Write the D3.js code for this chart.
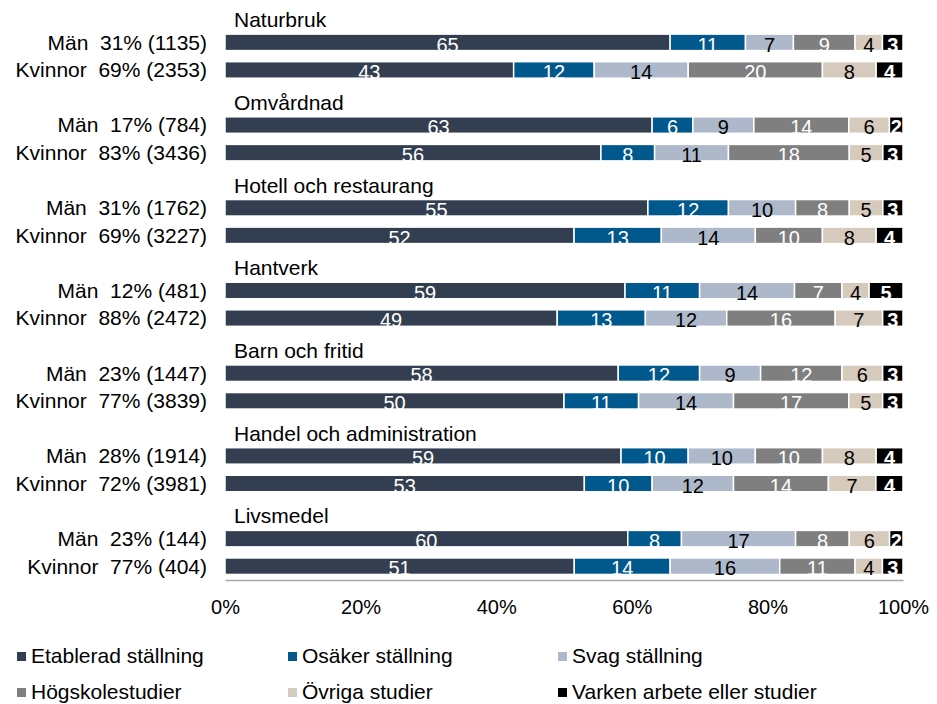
<!DOCTYPE html>
<html>
<head>
<meta charset="utf-8">
<script src="https://cdn.jsdelivr.net/npm/d3@7"></script>
<style>
  body { margin: 0; background: #fff; }
  text { font-family: "Liberation Sans", Arial, sans-serif; }
</style>
</head>
<body>
<script>
var width = 937;
var height = 704;

// groups (utbildningsprogram) and the two rows in each
var groups = ["Naturbruk", "Omvårdnad", "Hotell och restaurang", "Hantverk",
              "Barn och fritid", "Handel och administration", "Livsmedel"];
var menShare = [31, 17, 31, 12, 23, 28, 23];
var menN = [1135, 784, 1762, 481, 1447, 1914, 144];
var womenShare = [69, 83, 69, 88, 77, 72, 77];
var womenN = [2353, 3436, 3227, 2472, 3839, 3981, 404];

// series, one value per row: Män, Kvinnor for each group in order
var seriesNames = ["Etablerad ställning", "Osäker ställning", "Svag ställning",
                   "Högskolestudier", "Övriga studier", "Varken arbete eller studier"];
var etablerad = [65, 43, 63, 56, 63, 52, 59, 49, 58, 50, 59, 53, 60, 51];
var osaker    = [11, 12, 6, 8, 12, 13, 11, 13, 12, 11, 10, 10, 8, 14];
var svag      = [7, 14, 9, 11, 10, 14, 14, 12, 9, 14, 10, 12, 17, 16];
var hogskola  = [9, 20, 14, 18, 8, 10, 7, 16, 12, 17, 10, 14, 8, 11];
var ovriga    = [4, 8, 6, 5, 5, 8, 4, 7, 6, 5, 8, 7, 6, 4];
var varken    = [3, 4, 2, 3, 3, 4, 5, 3, 3, 3, 4, 4, 2, 3];
// the printed label of the first series (the original shows 55 on Hotell Män
// although the bar itself is about 63 long)
var etabladLabels = [65, 43, 63, 56, 55, 52, 59, 49, 58, 50, 59, 53, 60, 51];

var xTicks = [0, 0.2, 0.4, 0.6, 0.8, 1];

var colors = ["#333f50", "#00588c", "#adb9ca", "#7f7f7f", "#d6cabd", "#000000"];
var labelColors = ["#fff", "#fff", "#000", "#fff", "#000", "#fff"];

// build rows
var seriesValues = [etablerad, osaker, svag, hogskola, ovriga, varken];
var rows = [];
groups.forEach(function(g, i) {
  ["m", "k"].forEach(function(sex, j) {
    var r = { group: g, gi: i, sex: sex, index: i * 2 + j };
    r.label = sex == "m"
      ? "Män  " + menShare[i] + "% (" + menN[i] + ")"
      : "Kvinnor  " + womenShare[i] + "% (" + womenN[i] + ")";
    r.slot = i * 3 + 1 + j;
    seriesNames.forEach(function(s, k) { r[s] = seriesValues[k][r.index]; });
    rows.push(r);
  });
});

var stacked = d3.stack()
  .keys(seriesNames)
  .offset(d3.stackOffsetExpand)(rows);

var svg = d3.select("body").append("svg")
  .attr("width", width)
  .attr("height", height);

var x = d3.scaleLinear().domain([0, 1]).range([225, 903]);
var y = d3.scaleBand().domain(d3.range(21)).range([1, 580]);
var barH = 16.5;

// bars
var layer = svg.selectAll("g.layer")
  .data(stacked)
  .enter().append("g")
  .attr("class", "layer");

layer.selectAll("rect")
  .data(function(d, k) { return d.map(function(p) { return { p: p, k: k }; }); })
  .enter().append("rect")
  .attr("x", function(d) { return x(d.p[0]); })
  .attr("width", function(d) { return x(d.p[1]) - x(d.p[0]); })
  .attr("y", function(d) { return y(d.p.data.slot) + y.bandwidth() / 2 - barH / 2; })
  .attr("height", barH)
  .attr("fill", function(d) { return colors[d.k]; })
  .attr("stroke", "#fff")
  .attr("stroke-width", 1.5);

// value labels
layer.selectAll("text")
  .data(function(d, k) { return d.map(function(p) { return { p: p, k: k, key: d.key }; }); })
  .enter().append("text")
  .attr("x", function(d) { return (x(d.p[0]) + x(d.p[1])) / 2; })
  .attr("y", function(d) { return y(d.p.data.slot) + y.bandwidth() / 2 + barH / 2 + 1; })
  .attr("text-anchor", "middle")
  .attr("font-size", 20)
  .attr("font-weight", function(d) { return d.k == 5 ? "bold" : "normal"; })
  .attr("fill", function(d) { return labelColors[d.k]; })
  .text(function(d) {
    return d.k == 0 ? etabladLabels[d.p.data.index] : d.p.data[d.key];
  });

// row labels
svg.selectAll("text.rowlabel")
  .data(rows)
  .enter().append("text")
  .attr("class", "rowlabel")
  .attr("x", 207)
  .attr("y", function(d) { return y(d.slot) + y.bandwidth() / 2; })
  .attr("dy", "0.35em")
  .attr("text-anchor", "end")
  .attr("font-size", 21)
  .attr("fill", "#000")
  .style("white-space", "pre")
  .text(function(d) { return d.label; });

// group titles
svg.selectAll("text.grouptitle")
  .data(groups)
  .enter().append("text")
  .attr("class", "grouptitle")
  .attr("x", 234)
  .attr("y", function(d, i) { return y(i * 3) + y.bandwidth() / 2 + 5; })
  .attr("dy", "0.35em")
  .attr("font-size", 21)
  .attr("fill", "#000")
  .text(function(d) { return d; });

// x axis
var xAxis = d3.axisBottom(x)
  .tickValues(xTicks)
  .tickSize(0)
  .tickPadding(20)
  .tickFormat(d3.format(".0%"));

var gx = svg.append("g")
  .attr("transform", "translate(0,580)")
  .call(xAxis);
gx.select(".domain").attr("stroke", "#a6a6a6").attr("stroke-width", 1.5);
gx.selectAll("text")
  .attr("font-size", 20)
  .attr("font-family", "Liberation Sans, Arial, sans-serif")
  .attr("fill", "#000");

// legend
var legendX = [17, 288, 558];
var legendY = [656, 692];
var legend = svg.selectAll("g.legend")
  .data(seriesNames)
  .enter().append("g")
  .attr("class", "legend")
  .attr("transform", function(d, i) {
    return "translate(" + legendX[i % 3] + "," + legendY[Math.floor(i / 3)] + ")";
  });

legend.append("rect")
  .attr("x", 0)
  .attr("y", -4)
  .attr("width", 9)
  .attr("height", 9)
  .attr("fill", function(d, i) { return colors[i]; });

legend.append("text")
  .attr("x", 14)
  .attr("y", 0)
  .attr("dy", "0.35em")
  .attr("font-size", 21)
  .attr("fill", "#000")
  .text(function(d) { return d; });
</script>
</body>
</html>
